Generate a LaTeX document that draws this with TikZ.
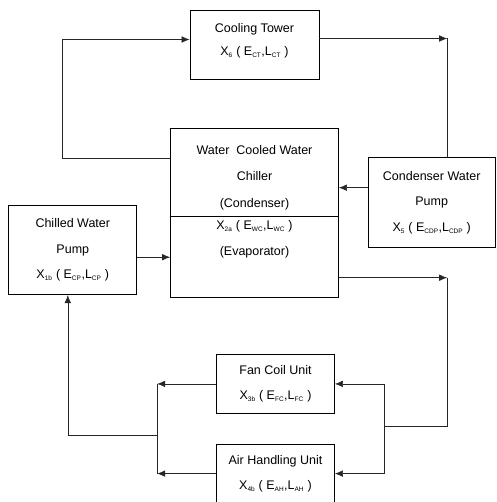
\documentclass[tikz,border=0pt]{standalone}
\usepackage{fontspec}
\setmainfont{Liberation Sans}
\usetikzlibrary{arrows.meta,positioning,calc}
\newcommand{\lo}[1]{\textsubscript{\fontsize{6.5}{6.5}\selectfont #1}}
\tikzset{
  unittext/.style={
    align=center,
    inner sep=0pt,
    font=\fontsize{12.5}{25.5}\selectfont
  },
  unit/.style={
    unittext,
    draw=black,
    line width=0.7pt,
    rectangle
  },
  flow/.style={
    draw=black!85,
    line width=0.6pt,
    -{Latex[length=8pt,width=6.5pt]}
  },
  pipe/.style={
    draw=black!85,
    line width=0.6pt
  }
}

\begin{document}
\begin{tikzpicture}[node distance=49pt and 29pt]
    \useasboundingbox (0,0) rectangle (496pt,-502pt);

    \node [unit, minimum width=129pt, minimum height=69pt, font=\fontsize{12.5}{23}\selectfont, text depth=10pt] (tower) at (254.5pt,-44.5pt) {Cooling Tower\\X\lo{6} ( E\lo{CT},L\lo{CT} )};

    \node [unit, minimum width=168pt, minimum height=88pt, below=49pt of tower] (cond) {};

    \node [unittext, font=\fontsize{12.5}{26.5}\selectfont, yshift=-5pt] (condtext) at (cond) {Water\ \ Cooled Water\\Chiller\\(Condenser)};

    \node [unit, minimum width=168pt, minimum height=81pt, below=-0.7pt of cond] (evap) {};

    \node [unittext, below=4pt of evap.north] (evaptext) {X\lo{2a} ( E\lo{WC},L\lo{WC} )\\(Evaporator)};

    \node [unit, minimum width=127pt, minimum height=90pt, right=29pt of cond, yshift=-30pt] (cwp) {Condenser Water\\Pump\\X\lo{5} ( E\lo{CDP},L\lo{CDP} )};

    \node [unit, minimum width=128pt, minimum height=89pt, left=33pt of evap, yshift=7pt] (chwp) {Chilled Water\\Pump\\X\lo{1b} ( E\lo{CP},L\lo{CP} )};

    \node [unit, minimum width=118pt, minimum height=59pt, below=56pt of evap, xshift=21pt] (fcu) {Fan Coil Unit\\X\lo{3b} ( E\lo{FC},L\lo{FC} )};

    \node [unit, minimum width=118pt, minimum height=59pt, below=30pt of fcu] (ahu) {Air Handling Unit\\X\lo{4b} ( E\lo{AH},L\lo{AH} )};

    \coordinate (towerin) at ([yshift=5pt]tower.west);
    \coordinate (towerout) at ([yshift=6pt]tower.east);
    \coordinate (condout) at ([yshift=14pt]cond.west);
    \coordinate [left=108pt of condout] (lefttop);
    \coordinate (cwpout) at ([yshift=15pt]cwp.west);
    \coordinate (evapout) at ([yshift=-20.5pt]evap.east);
    \coordinate (rightx) at ([xshift=15.5pt]cwp.north);
    \coordinate [right=49pt of fcu.east] (fcuin);
    \coordinate [right=49pt of ahu.east] (ahuin);
    \coordinate [left=59pt of fcu.west] (fcuout);
    \coordinate [left=59pt of ahu.west] (ahuout);
    \coordinate (rightjoin) at ($(fcuin)!0.47!(ahuin)$);
    \coordinate (leftjoin) at ($(fcuout)!0.57!(ahuout)$);
    \coordinate (chwpin) at ([xshift=-5pt]chwp.south);

    \draw [flow] (condout) -- (lefttop) |- (towerin);
    \draw [flow] (towerout) -- (rightx |- towerout);
    \draw [pipe] (rightx |- towerout) -- (rightx);
    \draw [flow] (cwpout) -- (cwpout -| cond.east);
    \draw [flow] (evap.west -| chwp.east) -- (evap.west);
    \draw [flow] (evapout) -- (rightx |- evapout);
    \draw [pipe] (rightx |- evapout) |- (rightjoin);
    \draw [pipe] (fcuin) -- (ahuin);
    \draw [flow] (fcuin) -- (fcu.east);
    \draw [flow] (ahuin) -- (ahu.east);
    \draw [flow] (fcu.west) -- (fcuout);
    \draw [flow] (ahu.west) -- (ahuout);
    \draw [pipe] (fcuout) -- (ahuout);
    \draw [flow] (leftjoin) -| (chwpin);
  \end{tikzpicture}
\end{document}
